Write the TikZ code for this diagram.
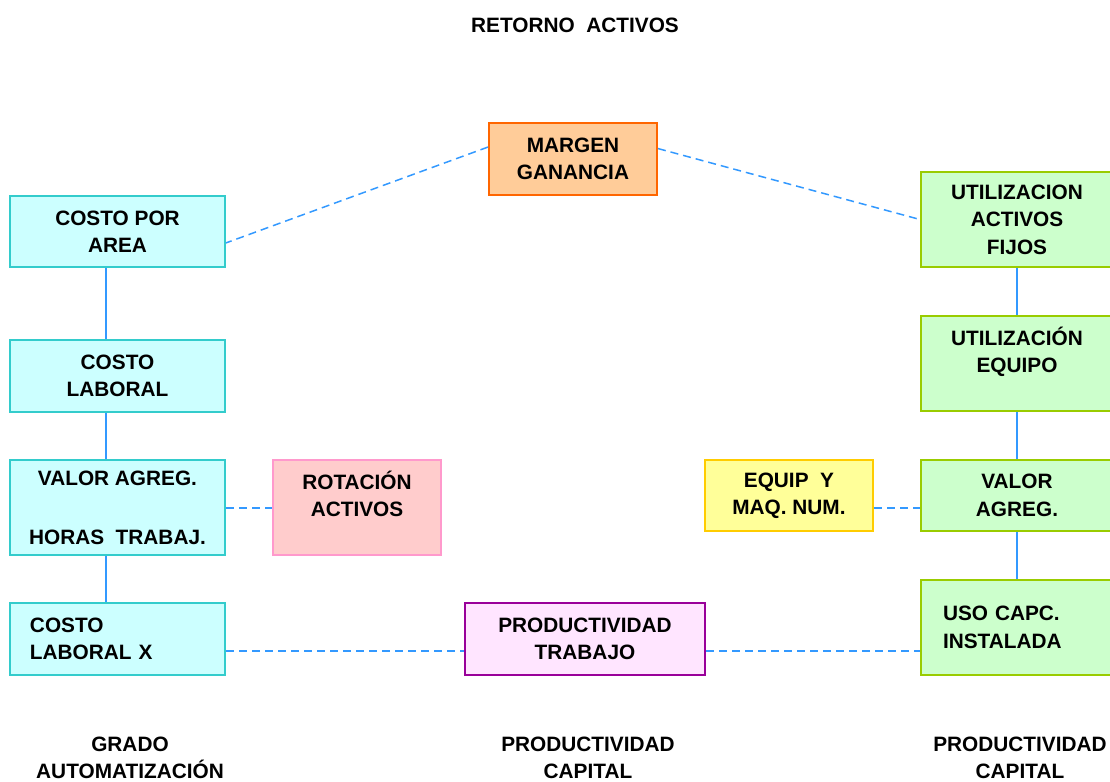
\documentclass[tikz,border=0pt]{standalone}
\usepackage{fontspec}
\setmainfont{Liberation Sans}

\definecolor{cyanfill}{HTML}{CCFFFF}
\definecolor{cyanline}{HTML}{33CCCC}
\definecolor{orangefill}{HTML}{FFCC99}
\definecolor{orangeline}{HTML}{FF6600}
\definecolor{pinkfill}{HTML}{FFCCCC}
\definecolor{pinkline}{HTML}{FF99CC}
\definecolor{lilacfill}{HTML}{FFE5FF}
\definecolor{lilacline}{HTML}{990099}
\definecolor{greenfill}{HTML}{CCFFCC}
\definecolor{greenline}{HTML}{99CC00}
\definecolor{yellowfill}{HTML}{FFFF99}
\definecolor{yellowline}{HTML}{FFCC00}
\definecolor{linkblue}{HTML}{3399FF}

\begin{document}
\begin{tikzpicture}[x=0.5pt, y=-0.5pt,
  every node/.style = {font=\fontsize{10.4}{13.7}\selectfont\bfseries, align=center},
  box/.style = {shape=rectangle, draw, line width=1pt, inner sep=0pt},
  costo/.style = {box, draw=cyanline, fill=cyanfill, minimum width=107.5pt},
  capital/.style = {box, draw=greenline, fill=greenfill, minimum width=96pt},
  link/.style = {draw=linkblue, line width=0.75pt},
  tie/.style = {link, dash pattern=on 4pt off 2.5pt}
  ]
  \useasboundingbox (0,0) rectangle (1110,782);

  \node (titulo) at (575,25) {RETORNO\ \ ACTIVOS};

  \node[box, draw=orangeline, fill=orangefill, minimum width=84pt, minimum height=36pt]
    (margen) at (573,159) {MARGEN\\GANANCIA};

  % left column
  \node[costo, minimum height=35.5pt] (area) at (117.5,231.5) {COSTO POR\\AREA};
  \node[costo, minimum height=36pt] (laboral) at (117.5,376) {COSTO\\LABORAL};
  \node[costo, minimum height=47.5pt] (agregh) at (117.5,507.5) {VALOR AGREG.\\[2pt] \\HORAS\ \ TRABAJ.};
  \node[costo, minimum height=36pt, text width=87.5pt, inner xsep=10pt, align=left]
    (laboralx) at (117.5,639) {COSTO\\LABORAL X};

  \node[box, draw=pinkline, fill=pinkfill, minimum width=84pt, minimum height=47.5pt]
    (rotacion) at (357,507.5) {ROTACIÓN\\ACTIVOS\\ };
  \node[box, draw=lilacline, fill=lilacfill, minimum width=120pt, minimum height=36pt]
    (trabajo) at (585,639) {PRODUCTIVIDAD\\TRABAJO};

  % right column
  \node[capital, minimum height=47.5pt] (fijos) at (1017,219.5) {UTILIZACION\\ACTIVOS\\FIJOS};
  \node[capital, minimum height=47.5pt] (equipo) at (1017,363.5) {UTILIZACIÓN\\EQUIPO\\ };
  \node[capital, minimum height=35.5pt] (agregc) at (1017,495.5) {VALOR\\AGREG.};
  \node[capital, minimum height=47.5pt, text width=74pt, inner xsep=11pt, align=left]
    (capc) at (1017,627.5) {USO CAPC.\\INSTALADA\\ };

  \node[box, draw=yellowline, fill=yellowfill, minimum width=84pt, minimum height=35.5pt]
    (maq) at (789,495.5) {EQUIP\ \ Y\\MAQ. NUM.};

  % bottom labels
  \node (grado) at (130,758) {GRADO\\AUTOMATIZACIÓN};
  \node (pcap) at (588,758) {PRODUCTIVIDAD\\CAPITAL};
  \node (pcapb) at (1020,758) {PRODUCTIVIDAD\\CAPITAL};

  % connectors
  \draw[tie] (margen.172.5) -- (area.-6);
  \draw[tie] (margen.7.5) -- (fijos.west);
  \draw[link] ([xshift=-5.75pt]area.south) -- ([xshift=-5.75pt]laboral.north);
  \draw[link] ([xshift=-5.75pt]laboral.south) -- ([xshift=-5.75pt]agregh.north);
  \draw[link] ([xshift=-5.75pt]agregh.south) -- ([xshift=-5.75pt]laboralx.north);
  \draw[tie] ([yshift=-0.25pt]agregh.east) -- ([yshift=-0.25pt]rotacion.west);
  \draw[tie] ([yshift=-6pt]laboralx.east) -- ([yshift=-6pt]trabajo.west);
  \draw[tie] ([yshift=-6pt]trabajo.east) -- ([yshift=-11.75pt]capc.west);
  \draw[link] (fijos.south) -- (equipo.north);
  \draw[link] (equipo.south) -- (agregc.north);
  \draw[link] (agregc.south) -- (capc.north);
  \draw[tie] ([yshift=-6.25pt]maq.east) -- ([yshift=-6.25pt]agregc.west);
\end{tikzpicture}
\end{document}
